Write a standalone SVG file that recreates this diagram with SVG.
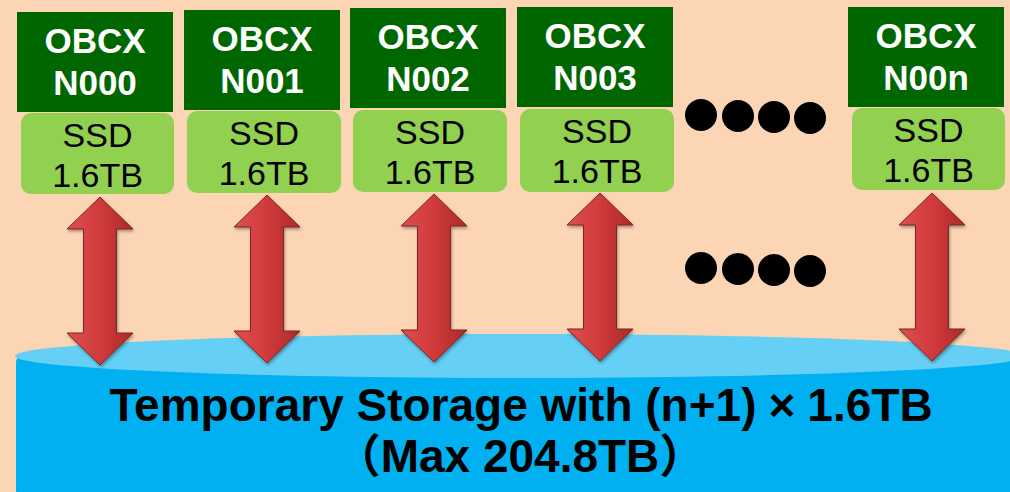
<svg xmlns="http://www.w3.org/2000/svg" width="1010" height="492" viewBox="0 0 1010 492">
<style>
.node{fill:#006600}
.ssd{fill:#92d050}
.nt{font-family:"Liberation Sans",Arial,sans-serif;font-weight:bold;font-size:35px;fill:#ffffff;text-anchor:middle}
.st{font-family:"Liberation Sans",Arial,sans-serif;font-size:34px;fill:#000000;text-anchor:middle}
.ct{font-family:"Liberation Sans","Noto Sans CJK JP",sans-serif;font-weight:bold;font-size:46px;fill:#000000;text-anchor:middle}
.arrow{fill:url(#ag);stroke:#7a2626;stroke-width:1}
.dot{fill:#000000}
</style>
<defs>
<linearGradient id="ag" x1="0" y1="0" x2="1" y2="0">
<stop offset="0" stop-color="#e04e4e"/>
<stop offset="0.5" stop-color="#d03a3a"/>
<stop offset="1" stop-color="#ad2a2a"/>
</linearGradient>
<filter id="sh" x="-30%" y="-10%" width="160%" height="120%">
<feDropShadow dx="1" dy="2" stdDeviation="1.5" flood-color="#000" flood-opacity="0.35"/>
</filter>
<path id="dbl" d="M0,0 L33,32 L16.5,32 L16.5,136 L33,136 L0,168 L-33,136 L-16.5,136 L-16.5,32 L-33,32 Z"/>
</defs>
<rect x="0" y="0" width="1010" height="492" fill="#fcd5b5"/>
<g id="storage">
<rect x="16" y="356" width="1020" height="140" rx="6" fill="#00b0f0"/>
<ellipse cx="520" cy="356" rx="505" ry="22" fill="#66cff6"/>
<text class="ct" x="521" y="421">Temporary Storage with (n+1)<tspan dx="12">×</tspan><tspan dx="12">1.6TB</tspan></text>
<text class="ct" x="520" y="472" font-size="45">（Max 204.8TB）</text>
</g>
<g id="node-n000">
<rect class="node" x="17" y="12" width="156" height="100"/>
<text class="nt" x="95" y="53">OBCX</text>
<text class="nt" x="95" y="95">N000</text>
<rect class="ssd" x="21" y="113" width="153" height="81" rx="10"/>
<text class="st" x="97.5" y="147">SSD</text>
<text class="st" x="97.5" y="187">1.6TB</text>
</g>
<g id="node-n001">
<rect class="node" x="184" y="10" width="156" height="100"/>
<text class="nt" x="262" y="51">OBCX</text>
<text class="nt" x="262" y="93">N001</text>
<rect class="ssd" x="187" y="111" width="154" height="82" rx="10"/>
<text class="st" x="264" y="145">SSD</text>
<text class="st" x="264" y="185">1.6TB</text>
</g>
<g id="node-n002">
<rect class="node" x="350" y="8" width="156" height="100"/>
<text class="nt" x="428" y="49">OBCX</text>
<text class="nt" x="428" y="91">N002</text>
<rect class="ssd" x="353" y="110" width="154" height="82" rx="10"/>
<text class="st" x="430" y="144">SSD</text>
<text class="st" x="430" y="184">1.6TB</text>
</g>
<g id="node-n003">
<rect class="node" x="517" y="7" width="156" height="100"/>
<text class="nt" x="595" y="48">OBCX</text>
<text class="nt" x="595" y="90">N003</text>
<rect class="ssd" x="520" y="109" width="154" height="83" rx="10"/>
<text class="st" x="597" y="143">SSD</text>
<text class="st" x="597" y="183">1.6TB</text>
</g>
<g id="node-n00n">
<rect class="node" x="848" y="7" width="156" height="100"/>
<text class="nt" x="926" y="48">OBCX</text>
<text class="nt" x="926" y="90">N00n</text>
<rect class="ssd" x="852" y="108" width="153" height="82" rx="10"/>
<text class="st" x="928.5" y="142">SSD</text>
<text class="st" x="928.5" y="182">1.6TB</text>
</g>
<g id="ellipsis">
<circle class="dot" cx="701" cy="115" r="16"/>
<circle class="dot" cx="738" cy="116" r="16"/>
<circle class="dot" cx="774" cy="117" r="16"/>
<circle class="dot" cx="810" cy="118" r="16"/>
<circle class="dot" cx="701" cy="268" r="16"/>
<circle class="dot" cx="738" cy="269" r="16"/>
<circle class="dot" cx="774" cy="270" r="16"/>
<circle class="dot" cx="810" cy="271" r="16"/>
</g>
<g id="connectors" filter="url(#sh)">
<use href="#dbl" class="arrow" transform="translate(100,197)"/>
<use href="#dbl" class="arrow" transform="translate(267,195)"/>
<use href="#dbl" class="arrow" transform="translate(434,194)"/>
<use href="#dbl" class="arrow" transform="translate(600,193)"/>
<use href="#dbl" class="arrow" transform="translate(932,193)"/>
</g>
</svg>
